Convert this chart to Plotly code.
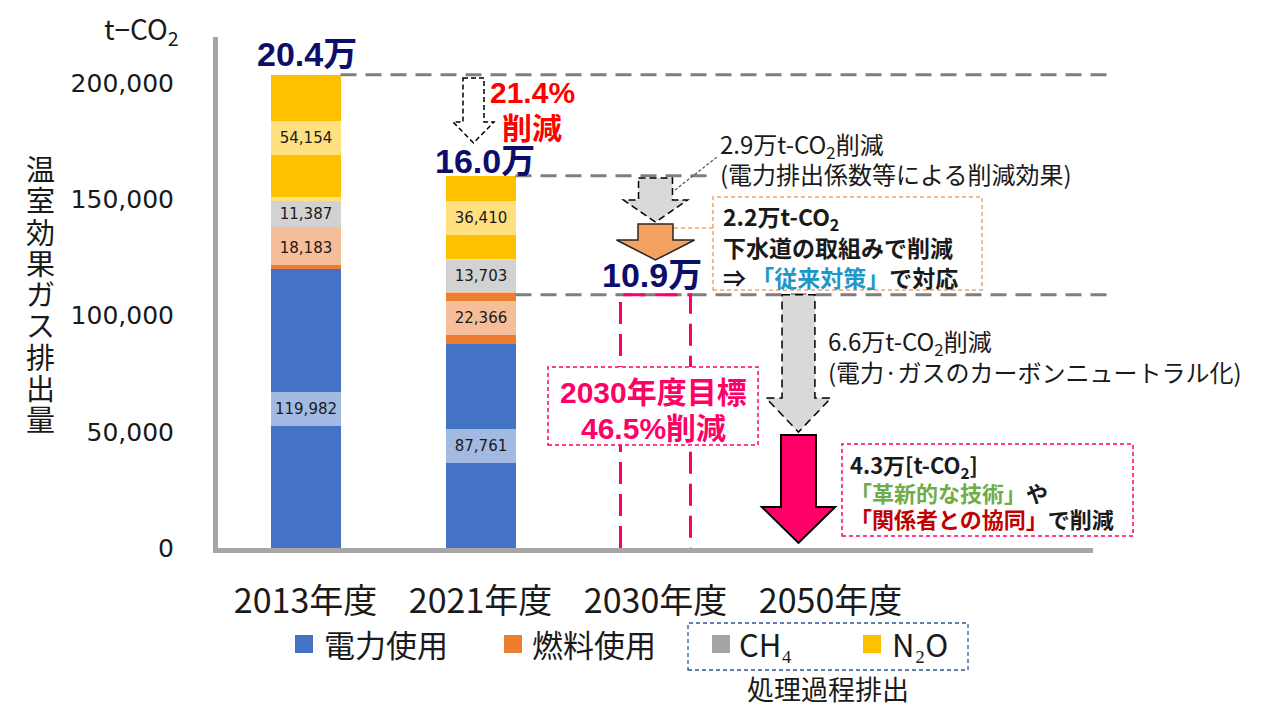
import plotly.graph_objects as go

# ---------------- data ----------------
categories = ["2013年度", "2021年度", "2030年度", "2050年度"]
electric = [119982, 87761]      # 電力使用
fuel = [18183, 22366]           # 燃料使用
ch4 = [11387, 13703]            # CH4
n2o = [54154, 36410]            # N2O
target_2030 = 109000            # 2030年度目標 (10.9万)
y_ticks = [0, 50000, 100000, 150000, 200000]

series_names = ["電力使用", "燃料使用", "CH₄", "N₂O"]
series_vals = [electric, fuel, ch4, n2o]
series_colors = ["#4472C4", "#ED7D31", "#A5A5A5", "#FFC000"]

JP = "Noto Sans CJK JP"
NUM = "DejaVu Sans"
BOLDNUM = "Liberation Sans, Noto Sans CJK JP"
TXT = "#1A1A1A"
NAVY = "#0D0D6B"
PINK = "#FF0066"
YMAX = 220000

# page offset (browser body margin) and plot area geometry in figure pixels
OFF = 8
W, H = 1274 - OFF, 706 - OFF
L, R, T, B = 218 - OFF, 1093 - OFF, 37 - OFF, 548 - OFF


def px(x):
    return (x - OFF - L) / (R - L)


def py(y):
    return (B - (y - OFF)) / (B - T)


fig = go.Figure()
bar_x = list(range(len(electric)))
for name, vals, col in zip(series_names, series_vals, series_colors):
    fig.add_trace(go.Bar(x=bar_x, y=vals, name=name, width=0.4,
                         marker=dict(color=col, line=dict(width=0)),
                         showlegend=False))

annotations = []
shapes = []

# value labels inside bars
totals = []
for i in bar_x:
    base = 0
    for vals in series_vals:
        v = vals[i]
        annotations.append(dict(x=i, y=base + v / 2, xref="x", yref="y",
                                text=f"{v:,}", showarrow=False,
                                font=dict(family=NUM, size=15, color=TXT),
                                bgcolor="rgba(255,255,255,0.5)",
                                width=70, height=34, borderpad=0, borderwidth=0))
        base += v
    totals.append(base)

# total labels
tot_vals = totals + [target_2030]
tot_shift = [(1, 21), (4, 15), (-4, 20)]
for i, (tv, (xs, ys)) in enumerate(zip(tot_vals, tot_shift)):
    annotations.append(dict(x=i, y=tv, xref="x", yref="y", xshift=xs, yshift=ys,
                            text=f"<b>{tv / 10000:.1f}万</b>", showarrow=False,
                            yanchor="middle",
                            font=dict(family=BOLDNUM, size=34, color=NAVY)))

# gray dashed reference lines
GRAYDASH = dict(color="#7F7F7F", width=3, dash="16px,9px")
ref_lines = [(0.2, totals[0], 1110), (1.2, totals[1], 712), (1.2, target_2030, 1110)]
for x0, yv, xend in ref_lines:
    yy = yv / YMAX
    shapes.append(dict(type="line", xref="paper", yref="paper",
                       x0=(x0 + 0.5) / 5, x1=px(xend), y0=yy, y1=yy, line=GRAYDASH))

# 2030 target dashed outline (open at the bottom)
shapes.append(dict(type="path", xref="x", yref="y",
                   path=f"M 1.8,0 L 1.8,{target_2030} L 2.2,{target_2030} L 2.2,0",
                   line=dict(color=PINK, width=3, dash="22px,10px")))


def arrow_path(xc, ytop, yhead, ytip, hs, hh):
    return (f"M {xc - hs},{ytop} L {xc + hs},{ytop} L {xc + hs},{yhead} "
            f"L {xc + hh},{yhead} L {xc},{ytip} L {xc - hh},{yhead} "
            f"L {xc - hs},{yhead} Z")


# hollow arrow 2013 -> 2021
shapes.append(dict(type="path", xref="x", yref="y",
                   path=arrow_path(0.96, 202300, 183400, 174400, 0.06, 0.117),
                   fillcolor="white", line=dict(color="black", width=1.5, dash="5px,3px")))
# gray arrow (2.9万)
shapes.append(dict(type="path", xref="x", yref="y",
                   path=arrow_path(2.0, 159300, 149800, 140300, 0.097, 0.183),
                   fillcolor="#D9D9D9", line=dict(color="black", width=1.5, dash="7px,4px")))
# orange arrow (2.2万)
shapes.append(dict(type="path", xref="x", yref="y",
                   path=arrow_path(2.0, 139500, 132600, 124000, 0.1, 0.223),
                   fillcolor="#F4A261", line=dict(color="#262626", width=1.5)))
# big gray arrow (6.6万)
shapes.append(dict(type="path", xref="x", yref="y",
                   path=arrow_path(2.817, target_2030, 64600, 49900, 0.094, 0.186),
                   fillcolor="#D9D9D9", line=dict(color="black", width=1.5, dash="8px,5px")))
# pink arrow (4.3万)
shapes.append(dict(type="path", xref="x", yref="y",
                   path=arrow_path(2.817, 48600, 17600, 2200, 0.1, 0.209),
                   fillcolor=PINK, line=dict(color="black", width=2)))

# callout connectors
shapes.append(dict(type="line", xref="paper", yref="paper", x0=px(675), y0=py(190),
                   x1=px(717), y1=py(157), line=dict(color="#44546A", width=1.2, dash="3px,2px")))
shapes.append(dict(type="line", xref="paper", yref="paper", x0=px(674), y0=py(228),
                   x1=px(713), y1=py(228), line=dict(color="#F4A261", width=1.5, dash="4px,3px")))

# dashed boxes
shapes.append(dict(type="rect", xref="paper", yref="paper", x0=px(713), x1=px(982),
                   y0=py(290), y1=py(197), line=dict(color="#F4A261", width=1.5, dash="4px,3px"),
                   fillcolor="white"))
shapes.append(dict(type="rect", xref="paper", yref="paper", x0=px(548), x1=px(758),
                   y0=py(445), y1=py(367), line=dict(color=PINK, width=1.5, dash="4px,3px"),
                   fillcolor="white"))
shapes.append(dict(type="rect", xref="paper", yref="paper", x0=px(842), x1=px(1133),
                   y0=py(536), y1=py(444), line=dict(color=PINK, width=1.5, dash="4px,3px"),
                   fillcolor="white"))


# texts
def ann(x, y, text, size, color=TXT, family=JP, xanchor="left"):
    annotations.append(dict(x=px(x), y=py(y), xref="paper", yref="paper", text=text,
                            showarrow=False, xanchor=xanchor, yanchor="middle",
                            font=dict(family=family, size=size, color=color)))


def lines(x, y0, dy, texts, size, color=TXT, family=JP, xanchor="left"):
    for k, t in enumerate(texts):
        ann(x, y0 + k * dy, t, size, color, family, xanchor)


ann(181, 30, "t−CO<sub>2</sub>", 28, xanchor="right")
lines(532, 92, 36, ["<b>21.4%</b>", "<b>削減</b>"], 30, color="#FF0000",
      family=BOLDNUM, xanchor="center")
lines(718, 145, 28, ["2.9万t-CO<sub>2</sub>削減", "(電力排出係数等による削減効果)"], 24)
lines(721, 217, 30, ["<b>2.2万t-CO<sub>2</sub></b>", "<b>下水道の取組みで削減</b>",
                     "<b>⇒ <span style='color:#2196C8'>「従来対策」</span>で対応</b>"], 23)
lines(826, 342, 29, ["6.6万t-CO<sub>2</sub>削減", "(電力·ガスのカーボンニュートラル化)"], 24)
lines(653, 392, 36, ["<b>2030年度目標</b>", "<b>46.5%削減</b>"], 30, color=PINK,
      family=BOLDNUM, xanchor="center")
lines(848, 465, 26.5, ["<b>4.3万[t-CO<sub>2</sub>]</b>",
                       "<b><span style='color:#70AD47'>「革新的な技術」</span>や</b>",
                       "<b><span style='color:#C00000'>「関係者との協同」</span>で削減</b>"], 22)

# vertical y-axis title
ytitle = "温室効果ガス排出量"
for k, ch in enumerate(ytitle):
    ann(40, 168 + k * 31.25, ch, 29, xanchor="center")

# custom legend
leg_sq = [295, 504, 712, 863]
leg_tx = [322, 530, 737, 890]
for name, col, sx, tx in zip(series_names, series_colors, leg_sq, leg_tx):
    shapes.append(dict(type="rect", xref="paper", yref="paper", x0=px(sx), x1=px(sx + 18),
                       y0=py(653), y1=py(635), fillcolor=col, line=dict(width=0)))
    ann(tx, 643, name, 31)
shapes.append(dict(type="rect", xref="paper", yref="paper", x0=px(688), x1=px(968),
                   y0=py(670), y1=py(623), line=dict(color="#2F5597", width=1.3, dash="4px,3px")))
ann(828, 688, "処理過程排出", 27, xanchor="center")

fig.update_layout(
    width=W, height=H,
    margin=dict(l=L, r=W - R, t=T, b=H - B, autoexpand=False),
    paper_bgcolor="white", plot_bgcolor="white",
    barmode="stack", showlegend=False,
    font=dict(family=JP, color=TXT),
    xaxis=dict(range=[-0.5, 4.5], tickvals=list(range(len(categories))), ticktext=categories,
               showline=True, linewidth=5, linecolor="#A6A6A6", showgrid=False, zeroline=False,
               ticks="", tickfont=dict(family=JP, size=34, color=TXT), ticklabelstandoff=19,
               fixedrange=True),
    yaxis=dict(range=[0, YMAX], tickvals=y_ticks, tickformat=",",
               showline=True, linewidth=5, linecolor="#A6A6A6", showgrid=False, zeroline=False,
               ticks="", tickfont=dict(family=NUM, size=25, color=TXT), ticklabelstandoff=34,
               fixedrange=True),
    annotations=annotations,
    shapes=shapes,
)

fig.write_html("out.html")
